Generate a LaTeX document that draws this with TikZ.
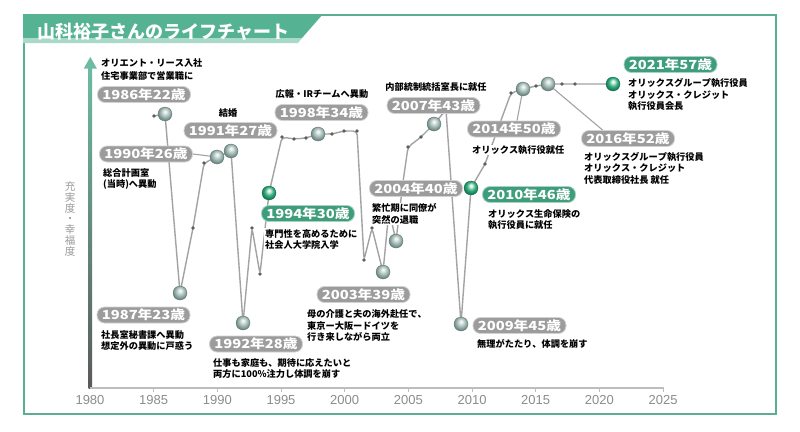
\documentclass[tikz,border=0pt]{standalone}
\usepackage{fontspec}
\setmainfont{Liberation Sans}
\newfontfamily\jp{Noto Sans CJK JP}[Kerning=Off]
\newfontfamily\jpw{Noto Sans CJK JP}[FakeStretch=1.18]
\usetikzlibrary{calc}
\pgfdeclarelayer{bg}
\pgfsetlayers{bg,main}
\definecolor{frameG}{HTML}{5BAE92}
\definecolor{titleG}{HTML}{55B393}
\definecolor{titleL}{HTML}{A9DAC7}
\definecolor{pillGray}{HTML}{9C9C9C}
\definecolor{pillGreen}{HTML}{3E9E7B}
\definecolor{curveC}{HTML}{A3A3A3}
\definecolor{dotC}{HTML}{5E5E5E}
\definecolor{tickC}{HTML}{8C8C8C}
\definecolor{axisG}{HTML}{6DBBA3}
\definecolor{axisD}{HTML}{5A5A5A}
\definecolor{axisX}{HTML}{BDBDBD}
\definecolor{ylabC}{HTML}{9A9A9A}
\definecolor{gbL}{HTML}{E4ECEA}
\definecolor{gbM}{HTML}{A7BCB8}
\definecolor{gbD}{HTML}{6F8B86}
\definecolor{ebL}{HTML}{D6F0E4}
\definecolor{ebM}{HTML}{3AAE80}
\definecolor{ebD}{HTML}{157D57}
\pgfdeclareradialshading{grayballsh}{\pgfpoint{0bp}{9bp}}{color(0bp)=(white); color(5bp)=(gbL); color(15bp)=(gbM); color(25bp)=(gbD); color(50bp)=(gbD)}
\pgfdeclareradialshading{greenballsh}{\pgfpoint{0bp}{9bp}}{color(0bp)=(white); color(5bp)=(ebL); color(15bp)=(ebM); color(25bp)=(ebD); color(50bp)=(ebD)}
\tikzset{
  curveline/.style={draw=curveC, line width=1.4pt, rounded corners=4pt, line join=round},
  conn/.style={draw=curveC, line width=1.1pt},
  gball/.style={circle, minimum size=14pt, inner sep=0pt, shade, shading=grayballsh, draw=gbD!80!black, line width=0.3pt},
  eball/.style={circle, minimum size=14pt, inner sep=0pt, shade, shading=greenballsh, draw=ebD!80!black, line width=0.3pt},
  dotm/.style={circle, fill=dotC, minimum size=3.6pt, inner sep=0pt},
  yrbox/.style={rounded corners=7.5pt, fill=pillGray, draw=pillGray!45, line width=0.8pt, text=white, font=\jpw\bfseries\fontsize{12.5}{13}\selectfont, minimum height=16pt, minimum width=93pt, inner sep=0pt},
  yrgreen/.style={yrbox, fill=pillGreen, draw=pillGreen!45},
  note/.style={font=\jp\bfseries\fontsize{9.2}{11.5}\selectfont, align=left, fill=white, inner sep=1pt, anchor=north west, text=black},
  ticklbl/.style={font=\fontsize{13}{13}\selectfont, text=tickC, inner sep=0pt},
}
\begin{document}
\begin{tikzpicture}[x=1pt,y=-1pt]
\useasboundingbox (0,0) rectangle (800,431);
% ---- curve points ----
\coordinate (p0) at (154,116);
\coordinate (b86) at (165,114);
\coordinate (b87) at (180,293);
\coordinate (p1) at (193,228);
\coordinate (p2) at (204,163);
\coordinate (b90) at (217,157);
\coordinate (b91) at (231,151);
\coordinate (b92) at (243,323);
\coordinate (p3) at (252,228);
\coordinate (p4) at (260,274);
\coordinate (b94) at (269,193);
\coordinate (p5) at (282,137);
\coordinate (p6) at (294,139);
\coordinate (p7) at (306,138);
\coordinate (b98) at (318,134);
\coordinate (p8) at (332,134);
\coordinate (p9) at (344,131);
\coordinate (p10) at (357,131);
\coordinate (p11) at (364,260);
\coordinate (p12) at (372,228);
\coordinate (b03) at (383,272);
\coordinate (h1) at (389,210);
\coordinate (b04) at (396,241);
\coordinate (h2) at (403,182);
\coordinate (p13) at (408,147);
\coordinate (p14) at (421,137);
\coordinate (b07) at (434,124);
\coordinate (h3) at (446,110);
\coordinate (b09) at (461,324);
\coordinate (b10) at (471,188);
\coordinate (p15) at (485,164);
\coordinate (p16) at (511,93);
\coordinate (b14) at (523,89);
\coordinate (p17) at (536,86);
\coordinate (b16) at (548,84);
\coordinate (p18) at (562,84);
\coordinate (p19) at (575,84);
\coordinate (b21) at (613,84);
% ---- title ----
\node[font=\jp\bfseries\fontsize{18}{18}\selectfont, text=white, anchor=west, inner sep=0pt] (title) at (37,32) {山科裕子さんのライフチャート};
% ---- axis labels ----
\node[font=\jp\fontsize{10.5}{10.8}\selectfont, text=ylabC, align=center, inner sep=0pt] (ylab) at (70,219) {充\\実\\度\\・\\幸\\福\\度};
\foreach \i in {0,...,9}{
  \pgfmathtruncatemacro\yr{1980+5*\i}
  \node[ticklbl] (t\i) at (90+63.67*\i,399.7) {\yr};
}
% ---- dots ----
\foreach \d in {p0,p1,p2,p3,p4,p5,p6,p7,p8,p9,p10,p11,p12,p13,p14,p15,p16,p17,p18,p19}{
  \node[dotm] (d\d) at (\d) {};
}
% ---- balls ----
\foreach \b in {b86,b87,b90,b91,b92,b98,b03,b04,b07,b09,b14,b16}{
  \node[gball] (B\b) at (\b) {};
}
\foreach \b in {b94,b10,b21}{
  \node[eball] (B\b) at (\b) {};
}
% ---- notes ----
\node[note, font=\jp\bfseries\fontsize{9.2}{12.8}\selectfont] (n86) at (100,57.4) {オリエント・リース入社\\住宅事業部で営業職に};
\node[note] (n90) at (102,167.4) {総合計画室\\(当時)へ異動};
\node[note, anchor=center] (n91) at (228,113) {結婚};
\node[note, anchor=center] (n98) at (322,94.5) {広報・IRチームへ異動};
\node[note] (n94) at (264,228) {専門性を高めるために\\社会人大学院入学};
\node[note] (n87) at (100,329) {社長室秘書課へ異動\\想定外の異動に戸惑う};
\node[note] (n92) at (212,357) {仕事も家庭も、期待に応えたいと\\両方に100\%注力し体調を崩す};
\node[note] (n03) at (306,308.5) {母の介護と夫の海外赴任で、\\東京ー大阪ードイツを\\行き来しながら両立};
\node[note] (n04) at (371,202.5) {繁忙期に同僚が\\突然の退職};
\node[note, anchor=center] (n07) at (436,87.5) {内部統制統括室長に就任};
\node[note, anchor=west] (n09) at (476,344) {無理がたたり、体調を崩す};
\node[note] (n10) at (487,208) {オリックス生命保険の\\執行役員に就任};
\node[note, anchor=west] (n14) at (471,150) {オリックス執行役就任};
\node[note] (n16) at (583,151) {オリックスグループ執行役員\\オリックス・クレジット\\代表取締役社長 就任};
\node[note] (n21) at (627,77.5) {オリックスグループ執行役員\\オリックス・クレジット\\執行役員会長};
% ---- year boxes ----
\node[yrbox] (l86) at (144,94.5) {1986年22歳};
\node[yrbox] (l90) at (146,154) {1990年26歳};
\node[yrbox] (l91) at (230.5,130.5) {1991年27歳};
\node[yrbox] (l98) at (321.5,112.5) {1998年34歳};
\node[yrgreen] (l94) at (308,213.5) {1994年30歳};
\node[yrbox] (l87) at (143.5,315) {1987年23歳};
\node[yrbox] (l92) at (256,344) {1992年28歳};
\node[yrbox] (l03) at (363.5,294.5) {2003年39歳};
\node[yrbox] (l04) at (416,188.5) {2004年40歳};
\node[yrbox] (l07) at (433.5,105.5) {2007年43歳};
\node[yrbox] (l09) at (519.5,325.5) {2009年45歳};
\node[yrgreen] (l10) at (529,194.5) {2010年46歳};
\node[yrbox] (l14) at (514,129) {2014年50歳};
\node[yrbox] (l16) at (628,138.5) {2016年52歳};
\node[yrgreen] (l21) at (670.5,64.5) {2021年57歳};
% ---- background layer ----
\begin{pgfonlayer}{bg}
  \fill[white] (0,0) rectangle (800,431);
  \draw[frameG, line width=2pt] (24,15) rectangle (776,414);
  \fill[titleG] (23,14) -- (323,14) -- (302,38) -- (23,38) -- cycle;
  \fill[titleL] (23,38) -- (302,38) -- (298,43) -- (23,43) -- cycle;
  % axes
  \shade[top color=axisG, bottom color=axisD] (88.5,67) rectangle (92,388);
  \fill[axisG] (83.8,68.5) -- (96.8,68.5) -- (90.3,57) -- cycle;
  \draw[axisX, line width=2pt] (90,388) -- (664,388);
  \foreach \i in {1,...,9}{
    \draw[axisX, line width=1pt] (90+63.67*\i,388) -- ++(0,4);
  }
  % life curve
  \draw[curveline] (p0) -- (b86) -- (b87) -- (p1) -- (p2) -- (b90) -- (b91) -- (b92) -- (p3) -- (p4) -- (b94) -- (p5) -- (p6) -- (p7) -- (b98) -- (p8) -- (p9) -- (p10) -- (p11) -- (p12) -- (b03) -- (h1) -- (b04) -- (h2) -- (p13) -- (p14) -- (b07) -- (h3) -- (b09) -- (b10) -- (p15) -- (p16) -- (b14) -- (p17) -- (b16) -- (p18) -- (p19) -- (b21);
  % label connectors
  \draw[conn] (l90.east) -- (Bb90);
  \draw[conn] (Bb14) -- ($(l14.north)+(3,0)$);
  \draw[conn] (Bb16) -- ($(l16.north west)!0.23!(l16.north east)$);
\end{pgfonlayer}
\end{tikzpicture}
\end{document}
